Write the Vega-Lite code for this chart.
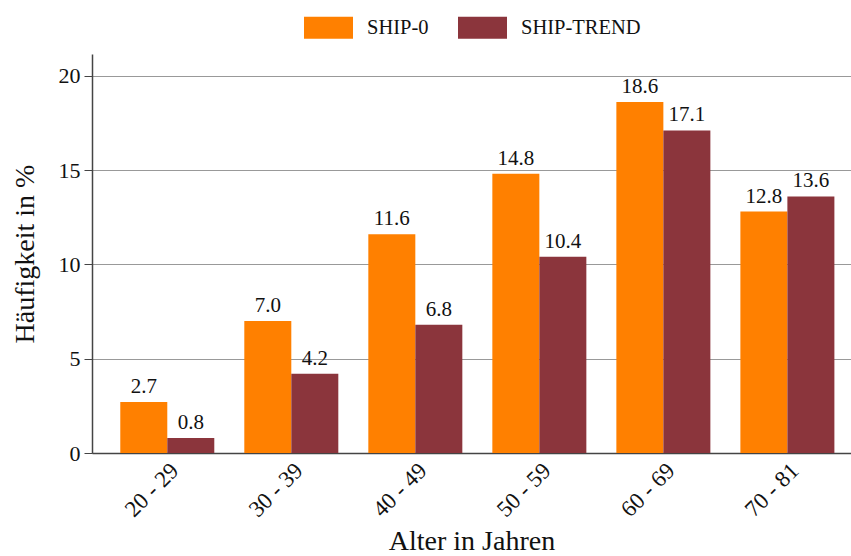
{
  "$schema": "https://vega.github.io/schema/vega-lite/v6.json",
  "autosize": "none",
  "width": 759,
  "height": 399,
  "padding": {"left": 92, "top": 54, "right": 0, "bottom": 103},
  "background": "white",
  "config": {
    "font": "Liberation Serif, Times New Roman, serif",
    "view": {"stroke": null}
  },
  "data": {
    "values": [
      {"age": "20 - 29", "study": "SHIP-0", "value": 2.7},
      {"age": "20 - 29", "study": "SHIP-TREND", "value": 0.8},
      {"age": "30 - 39", "study": "SHIP-0", "value": 7.0},
      {"age": "30 - 39", "study": "SHIP-TREND", "value": 4.2},
      {"age": "40 - 49", "study": "SHIP-0", "value": 11.6},
      {"age": "40 - 49", "study": "SHIP-TREND", "value": 6.8},
      {"age": "50 - 59", "study": "SHIP-0", "value": 14.8},
      {"age": "50 - 59", "study": "SHIP-TREND", "value": 10.4},
      {"age": "60 - 69", "study": "SHIP-0", "value": 18.6},
      {"age": "60 - 69", "study": "SHIP-TREND", "value": 17.1},
      {"age": "70 - 81", "study": "SHIP-0", "value": 12.8},
      {"age": "70 - 81", "study": "SHIP-TREND", "value": 13.6}
    ]
  },
  "encoding": {
    "x": {
      "field": "age",
      "type": "nominal",
      "sort": null,
      "scale": {"paddingInner": 0.242, "paddingOuter": 0.181, "align": 0.63},
      "axis": {
        "title": "Alter in Jahren",
        "titleFont": "Liberation Serif, Times New Roman, serif",
        "titleFontSize": 28,
        "titleFontWeight": "normal",
        "titleColor": "#111",
        "titlePadding": 6,
        "labelAngle": -45,
        "labelFont": "Liberation Serif, Times New Roman, serif",
        "labelFontSize": 23,
        "labelColor": "#111",
        "labelPadding": 6,
        "ticks": false,
        "domainColor": "#444",
        "domainWidth": 1.5,
        "grid": false
      }
    },
    "xOffset": {
      "field": "study",
      "type": "nominal",
      "scale": {"paddingInner": 0, "paddingOuter": 0}
    },
    "y": {
      "field": "value",
      "type": "quantitative",
      "scale": {"domain": [0, 21.15], "nice": false, "zero": true},
      "axis": {
        "title": "Häufigkeit in %",
        "titleFont": "Liberation Serif, Times New Roman, serif",
        "titleFontSize": 28,
        "titleFontWeight": "normal",
        "titleColor": "#111",
        "titlePadding": 19,
        "values": [0, 5, 10, 15, 20],
        "labelFont": "Liberation Serif, Times New Roman, serif",
        "labelFontSize": 22,
        "labelColor": "#111",
        "labelPadding": 4,
        "tickSize": 8,
        "tickColor": "#444",
        "domainColor": "#444",
        "domainWidth": 1.5,
        "grid": true,
        "gridColor": "#999",
        "gridWidth": 1.2
      }
    }
  },
  "layer": [
    {
      "mark": {"type": "bar"},
      "encoding": {
        "color": {
          "field": "study",
          "type": "nominal",
          "scale": {"domain": ["SHIP-0", "SHIP-TREND"], "range": ["#ff8000", "#8b353c"]},
          "legend": {
            "title": null,
            "orient": "none",
            "direction": "horizontal",
            "legendX": 212,
            "legendY": -51,
            "padding": 0,
            "symbolType": "M-1,-0.45H1V0.45H-1Z",
            "symbolSize": 2401,
            "symbolStrokeWidth": 0,
            "symbolOpacity": 1,
            "labelFont": "Liberation Serif, Times New Roman, serif",
            "labelFontSize": 20.5,
            "labelColor": "#111",
            "labelOffset": 14,
            "columnPadding": 29
          }
        }
      }
    },
    {
      "mark": {"type": "text", "baseline": "alphabetic", "dy": -9, "fontSize": 21, "font": "Liberation Serif, Times New Roman, serif", "color": "#111"},
      "encoding": {
        "text": {"field": "value", "type": "quantitative", "format": ".1f"}
      }
    }
  ]
}
